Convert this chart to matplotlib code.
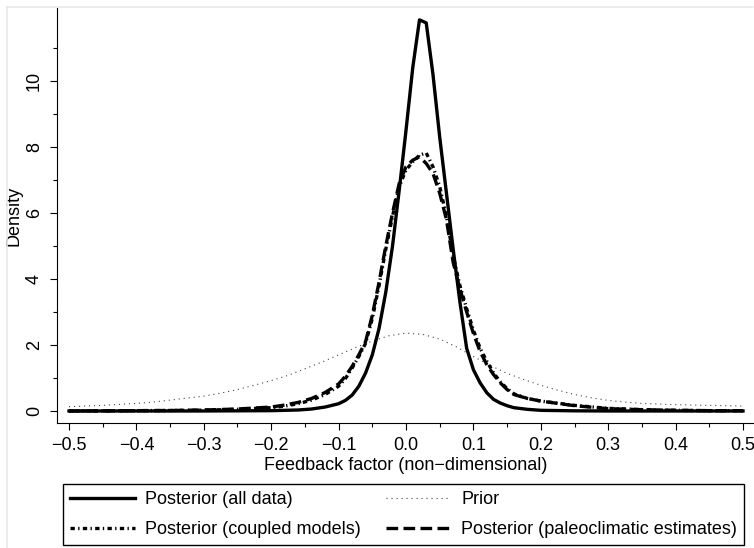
import matplotlib
matplotlib.use("Agg")
import matplotlib.pyplot as plt
from matplotlib.lines import Line2D

plt.rcParams['font.family'] = ['Liberation Sans', 'DejaVu Sans']

# === DATA ===
x_post = [-0.5, -0.45, -0.4, -0.35, -0.3, -0.25, -0.2, -0.18, -0.16, -0.14, -0.12,
          -0.10, -0.09, -0.08, -0.07, -0.06, -0.05, -0.04, -0.03, -0.02, -0.01,
          0.00, 0.01, 0.02, 0.03, 0.04, 0.05, 0.06, 0.07, 0.08, 0.09,
          0.10, 0.11, 0.12, 0.13, 0.14, 0.15, 0.16, 0.18, 0.2, 0.25,
          0.3, 0.35, 0.4, 0.45, 0.5]

post_all = [0.0, 0.0, 0.0, 0.0, 0.0, 0.005, 0.01, 0.02, 0.03, 0.06, 0.12,
            0.22, 0.32, 0.48, 0.75, 1.15, 1.7, 2.5, 3.6, 5.0, 6.7,
            8.5, 10.4, 11.85, 11.76, 10.2, 8.3, 6.6, 4.9, 3.3, 1.9,
            1.25, 0.85, 0.55, 0.35, 0.24, 0.16, 0.1, 0.05, 0.02, 0.005,
            0.0, 0.0, 0.0, 0.0, 0.0]

post_coupled = [0.0, 0.005, 0.01, 0.015, 0.025, 0.05, 0.1, 0.15, 0.22, 0.33, 0.5,
                0.75, 0.98, 1.3, 1.65, 2.05, 2.8, 3.8, 4.9, 5.9, 6.8,
                7.3, 7.55, 7.75, 7.82, 7.4, 6.8, 5.9, 4.7, 3.8, 3.1,
                2.45, 1.9, 1.5, 1.15, 0.88, 0.68, 0.52, 0.38, 0.3, 0.17,
                0.08, 0.04, 0.02, 0.01, 0.01]

post_paleo = [0.0, 0.005, 0.01, 0.015, 0.03, 0.06, 0.12, 0.18, 0.26, 0.38, 0.56,
              0.82, 1.05, 1.35, 1.7, 2.1, 2.9, 3.9, 5.0, 6.0, 6.9,
              7.4, 7.6, 7.7, 7.5, 7.2, 6.6, 5.8, 4.5, 3.7, 3.0,
              2.35, 1.8, 1.4, 1.1, 0.85, 0.65, 0.5, 0.38, 0.3, 0.16,
              0.07, 0.04, 0.02, 0.01, 0.01]

x_prior = [-0.5, -0.475, -0.45, -0.425, -0.4, -0.375, -0.35, -0.325, -0.3, -0.275,
           -0.25, -0.225, -0.2, -0.175, -0.15, -0.125, -0.1, -0.075, -0.05, -0.025,
           0.0, 0.025, 0.05, 0.075, 0.1, 0.125, 0.15, 0.175, 0.2, 0.225,
           0.25, 0.275, 0.3, 0.325, 0.35, 0.375, 0.4, 0.425, 0.45, 0.475, 0.5]
prior = [0.13, 0.15, 0.17, 0.20, 0.23, 0.27, 0.33, 0.39, 0.45, 0.54,
         0.65, 0.78, 0.92, 1.08, 1.28, 1.48, 1.70, 1.92, 2.12, 2.28,
         2.36, 2.32, 2.18, 1.94, 1.65, 1.38, 1.14, 0.95, 0.78, 0.63,
         0.50, 0.40, 0.32, 0.27, 0.23, 0.21, 0.19, 0.18, 0.17, 0.16, 0.15]

x_ticks = [-0.5, -0.4, -0.3, -0.2, -0.1, 0.0, 0.1, 0.2, 0.3, 0.4, 0.5]
y_ticks = [0, 2, 4, 6, 8, 10]

labels = ["Posterior (all data)", "Posterior (coupled models)",
          "Prior", "Posterior (paleoclimatic estimates)"]

FS = 13

# === FIGURE ===
W, H = 754, 548
fig = plt.figure(figsize=(W / 100, H / 100), dpi=100)
ax = fig.add_axes([57 / W, 1 - 423 / H, (755 - 57) / W, (423 - 8) / H])

# styles (R-ish line types)
st_all = dict(color='black', lw=2.4, ls='-')
st_coupled = dict(color='black', lw=2.4, ls=(0, (1.3, 1.0, 0.4, 1.0)))
st_prior = dict(color='#444444', lw=0.8, ls=(0, (1, 3.5)))
st_paleo = dict(color='black', lw=2.4, ls=(0, (3.5, 1.6)))

ax.plot(x_prior, prior, **st_prior)
ax.plot(x_post, post_paleo, **st_paleo)
ax.plot(x_post, post_coupled, **st_coupled)
ax.plot(x_post, post_all, **st_all)

ax.set_xlim(-0.5178, 0.5178)
ax.set_ylim(-0.364, 12.21)

ax.spines['top'].set_visible(False)
ax.spines['right'].set_visible(False)
for s in ['left', 'bottom']:
    ax.spines[s].set_linewidth(0.8)

ax.set_xticks(x_ticks)
ax.set_xticklabels([f"{v:.1f}".replace('-', '\u2212') for v in x_ticks])
ax.set_xticks([v + 0.05 for v in x_ticks[:-1]], minor=True)
ax.set_yticks(y_ticks)
ax.set_yticklabels([str(v) for v in y_ticks], rotation=90, va='center')
ax.set_yticks([1, 3, 5, 7, 9, 11], minor=True)
ax.tick_params(which='major', direction='out', length=5, width=0.8, labelsize=FS)
ax.tick_params(which='minor', direction='out', length=2.8, width=0.8)
ax.tick_params(axis='x', pad=5)
ax.tick_params(axis='y', pad=5)

ax.set_xlabel("Feedback factor (non\u2212dimensional)", fontsize=FS, labelpad=2)
ax.set_ylabel("Density", fontsize=FS, labelpad=2)
ax.yaxis.set_label_coords(-34 / 698, 0.5)

handles = [Line2D([], [], **st_all), Line2D([], [], **st_coupled),
           Line2D([], [], **st_prior), Line2D([], [], **st_paleo)]
fig.legend(handles, labels, loc='upper left', ncol=2,
           bbox_to_anchor=(63 / W, 1 - 484 / H), borderaxespad=0,
           frameon=True, fancybox=False, edgecolor='black', framealpha=1,
           fontsize=FS, handlelength=3.6, handletextpad=0.55,
           columnspacing=1.4, labelspacing=0.7, borderpad=0.4)

# light page frame seen in the reference
fig.add_artist(Line2D([7 / W, 7 / W], [0, 1 - 7 / H], transform=fig.transFigure,
                      color='#e3eaef', lw=1.2))
fig.add_artist(Line2D([7 / W, 753 / W], [1 - 7 / H, 1 - 7 / H], transform=fig.transFigure,
                      color='#e3eaef', lw=1.2))

fig.savefig("out.png", dpi=100)
